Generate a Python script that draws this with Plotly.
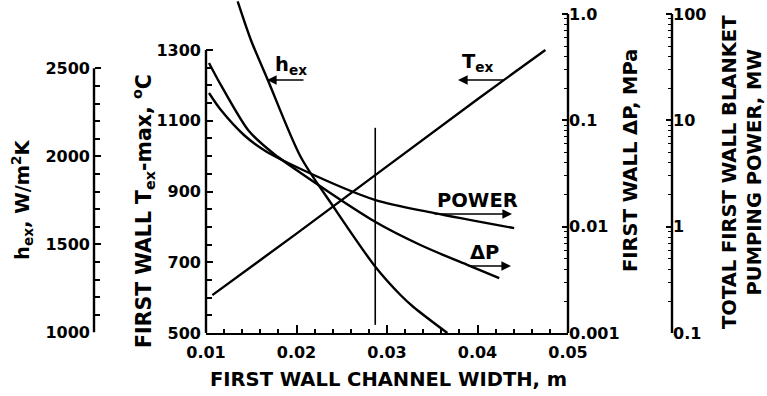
import plotly.graph_objects as go

# ---------------- data ----------------
# First wall channel width, m
tex_x = [0.0107, 0.0200, 0.0300, 0.0400, 0.0475]
tex_T = [607, 781, 971, 1161, 1300]          # deg C

hex_x = [0.01350, 0.01496, 0.01683, 0.02047, 0.02410, 0.02873, 0.03149, 0.03292, 0.03667]
hex_h = [2880, 2661, 2434, 1996, 1712, 1371, 1212, 1144, 996]   # W/m2K

dp_x = [0.01033, 0.01165, 0.01474, 0.01738, 0.02047, 0.02873, 0.03369, 0.03887, 0.04240]
dp_v = [0.347, 0.215, 0.0794, 0.0493, 0.0320, 0.01107, 0.00673, 0.00437, 0.00329]  # MPa

pw_x = [0.01033, 0.01165, 0.01419, 0.01639, 0.02047, 0.02873, 0.03512, 0.04405]
pw_v = [18.1, 12.5, 7.29, 5.27, 3.49, 1.78, 1.35, 0.97]   # MW

design_x = [0.0287, 0.0287]
design_T = [1080, 523]

x_ticks = [0.01, 0.02, 0.03, 0.04, 0.05]
x_ticktext = ["0.01", "0.02", "0.03", "0.04", "0.05"]
T_ticks = [500, 700, 900, 1100, 1300]
h_ticks = [1000, 1500, 2000, 2500]
dp_ticks = [0.001, 0.01, 0.1, 1.0]
dp_ticktext = ["0.001", "0.01", "0.1", "1.0"]
pw_ticks = [0.1, 1, 10, 100]
pw_ticktext = ["0.1", "1", "10", "100"]

# ---------------- layout geometry (window pixels) ----------------
W, H = 767, 396
PLOT_L, PLOT_R = 206, 568
PLOT_B = 333
HEX_AX_X = 94
PW_AX_X = 672

FONT = "DejaVu Sans"
TICKF = dict(family=FONT, size=16, color="black", weight="bold")
TITLEF = dict(family=FONT, size=19.5, color="black", weight="bold")
LW = 2.4

# axis ranges so that the plot area (y 0 .. PLOT_B) shows the reference scales
T_top = 500 + PLOT_B * 800 / 283.0
h_lo = 1000 - 0.7 * 1500 / 264.0
h_top = h_lo + PLOT_B * 1500 / 264.0
dp_top = -3 + PLOT_B / 106.3
pw_top = -1 + PLOT_B / 106.3


def minor_log(lo_exp, hi_exp):
    out = []
    for e in range(lo_exp, hi_exp):
        for m in range(2, 10):
            out.append(m * 10 ** e)
    return out


fig = go.Figure()
line = dict(color="black", width=LW, shape="spline", smoothing=0.8)
fig.add_trace(go.Scatter(x=tex_x, y=tex_T, mode="lines", line=dict(color="black", width=LW), yaxis="y"))
fig.add_trace(go.Scatter(x=hex_x, y=hex_h, mode="lines", line=line, yaxis="y4"))
fig.add_trace(go.Scatter(x=dp_x, y=dp_v, mode="lines", line=line, yaxis="y2"))
fig.add_trace(go.Scatter(x=pw_x, y=pw_v, mode="lines", line=line, yaxis="y3"))
fig.add_trace(go.Scatter(x=design_x, y=design_T, mode="lines", line=dict(color="black", width=1.6), yaxis="y"))

common_y = dict(showgrid=False, zeroline=False, showline=False, tickfont=TICKF,
                ticks="inside", tickcolor="black", tickwidth=1.8, fixedrange=True,
                automargin=False, ticklabeloverflow="allow")

fig.update_layout(
    width=W, height=H,
    margin=dict(l=0, r=0, t=0, b=H - PLOT_B, autoexpand=False),
    paper_bgcolor="white", plot_bgcolor="white",
    showlegend=False,
    font=dict(family=FONT, color="black"),
    xaxis=dict(domain=[PLOT_L / W, PLOT_R / W], range=[0.01, 0.05],
               tickvals=x_ticks, ticktext=x_ticktext, ticks="inside", ticklen=8,
               tickwidth=2, tickcolor="black", tickfont=TICKF, ticklabelstandoff=4,
               minor=dict(tickvals=[0.01 + 0.002 * i for i in range(21)], ticklen=4,
                          tickwidth=1.6, tickcolor="black", ticks="inside"),
               showline=True, linecolor="black", linewidth=2.4, mirror=False,
               showgrid=False, zeroline=False, fixedrange=True, automargin=False,
               ticklabeloverflow="allow"),
    yaxis=dict(range=[500, T_top], tickvals=T_ticks, ticklen=7, ticklabelstandoff=4,
               minor=dict(tickvals=list(range(550, 1300, 50)), ticklen=6, tickwidth=1.8,
                          tickcolor="black", ticks="inside"),
               **common_y),
    yaxis2=dict(type="log", range=[-3, dp_top], overlaying="y", anchor="x", side="right",
                tickvals=dp_ticks, ticktext=dp_ticktext, ticklen=6,
                minor=dict(tickvals=minor_log(-3, 0), ticklen=4, tickwidth=1.4,
                           tickcolor="black", ticks="inside"),
                **common_y),
    yaxis3=dict(type="log", range=[-1, pw_top], overlaying="y", anchor="free",
                position=PW_AX_X / W, side="right",
                tickvals=pw_ticks, ticktext=pw_ticktext, ticklen=6,
                minor=dict(tickvals=minor_log(-1, 2), ticklen=4, tickwidth=1.4,
                           tickcolor="black", ticks="inside"),
                **common_y),
    yaxis4=dict(range=[h_lo, h_top], overlaying="y", anchor="free",
                position=HEX_AX_X / W, side="left", ticklabelstandoff=4,
                tickvals=h_ticks, ticklen=6,
                minor=dict(tickvals=list(range(1100, 2500, 100)), ticklen=5, tickwidth=1.6,
                           tickcolor="black", ticks="inside"),
                **common_y),
)

# axis lines spanning only the labelled ranges
shapes = [
    dict(type="line", xref="paper", yref="y", x0=PLOT_L / W, x1=PLOT_L / W, y0=500, y1=1300,
         line=dict(color="black", width=2.4)),
    dict(type="line", xref="paper", yref="y2", x0=PLOT_R / W, x1=PLOT_R / W, y0=0.001, y1=1.0,
         line=dict(color="black", width=2.4)),
    dict(type="line", xref="paper", yref="y3", x0=PW_AX_X / W, x1=PW_AX_X / W, y0=0.1, y1=100,
         line=dict(color="black", width=2.4)),
    dict(type="line", xref="paper", yref="y4", x0=HEX_AX_X / W, x1=HEX_AX_X / W, y0=1000, y1=2500,
         line=dict(color="black", width=2.4)),
]
fig.update_layout(shapes=shapes)


def px(xp):
    """window pixel x -> paper fraction"""
    return xp / W


def py(yp):
    """window pixel y -> paper fraction"""
    return (PLOT_B - yp) / PLOT_B


def label(text, x, y, angle=0, size=19.5):
    f = dict(TITLEF)
    f["size"] = size
    return dict(text=text, x=px(x), y=py(y), xref="paper", yref="paper",
                xanchor="center", yanchor="middle", showarrow=False,
                textangle=angle, font=f)


ann = [
    # axis titles
    label("FIRST WALL CHANNEL WIDTH, m", 388, 379),
    label("h<sub>ex</sub>, W/m<sup>2</sup>K", 22, 200, -90),
    label("FIRST WALL T<sub>ex</sub>-max, <sup>o</sup>C", 143, 211, -90, 20.5),
    label("FIRST WALL ΔP, MPa", 630, 161, -90),
    label("TOTAL FIRST WALL BLANKET<br>PUMPING POWER, MW", 742, 172, -90),
    # curve labels
    label("h<sub>ex</sub>", 291, 66),
    label("T<sub>ex</sub>", 478, 63),
    label("POWER", 477, 200),
    label("ΔP", 484, 252),
]

# arrows (head, tail) in window pixels
arrows = [((267, 80), (305, 80)), ((458, 80), (505, 80)),
          ((512, 214), (433, 214)), ((511, 266), (467, 266))]
for (hx, hy), (tx, ty) in arrows:
    ann.append(dict(x=px(hx), y=py(hy), ax=tx - hx, ay=ty - hy, xref="paper", yref="paper",
                    axref="pixel", ayref="pixel", text="", showarrow=True, arrowhead=2,
                    arrowsize=1.2, arrowwidth=1.6, arrowcolor="black"))
fig.update_layout(annotations=ann)

# remove the page's default 8 px body margin so the figure fills the window exactly
fig.write_html("out.html", config={"displayModeBar": False},
               post_script="document.body.style.margin='0px';")
